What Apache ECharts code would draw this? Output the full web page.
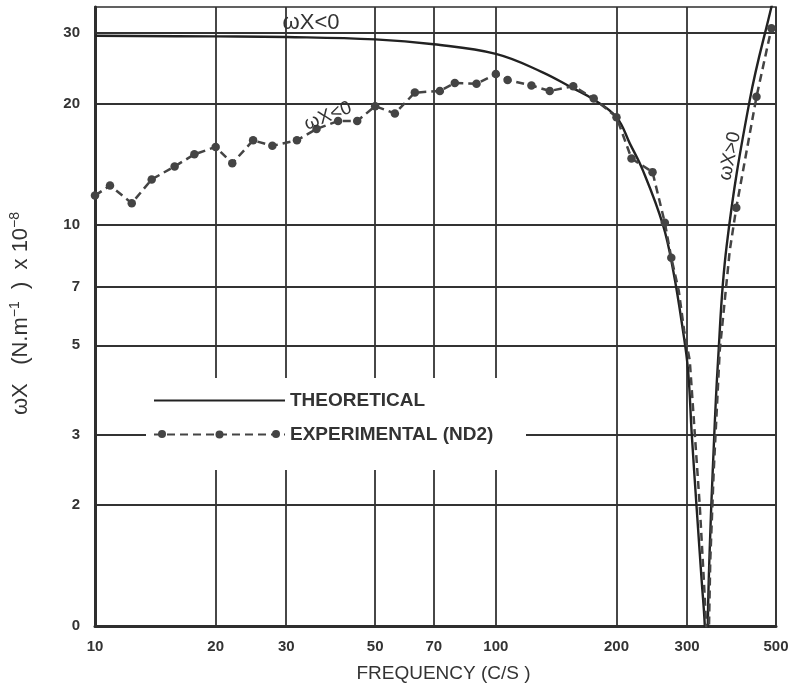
<!DOCTYPE html>
<html>
<head>
<meta charset="utf-8">
<title>ωX vs frequency</title>
<script src="https://cdn.jsdelivr.net/npm/echarts@6.0.0/dist/echarts.min.js"></script>
<style>
	html, body { margin: 0; padding: 0; background: #fff; }
	#main { width: 797px; height: 691px; }
</style>
</head>
<body>
<div id="main"></div>
<script>
	var xTicks = [10, 20, 30, 50, 70, 100, 200, 300, 500];
	var yTicks = [1, 2, 3, 5, 7, 10, 20, 30];

	// theoretical curve [freq, ωX], goes through zero near 336 c/s
	var theoryLeft = [
		[10, 29.5], [20, 29.4], [30, 29.3], [50, 28.9], [70, 28.1], [100, 26.6],
		[130, 24.0], [155, 21.9], [175, 20.5], [200, 18.5], [216, 15.9], [233, 13.6],
		[261, 10.0], [277, 7.68], [293, 5.44], [301.7, 4.33], [308.2, 3.0], [316.7, 1.99],
		[326, 1.31], [332, 1.01], [336, 0.7]
	];
	var theoryRight = [
		[338.8, 1.16], [341.8, 1.57], [347.6, 2.43], [358.4, 4.58], [376.7, 8.87],
		[430, 20.4], [487, 34.8], [500, 38.5]
	];

	// experimental (ND2), measured points
	var expPoints = [
		[10, 11.8], [10.9, 12.5], [12.35, 11.3], [13.85, 12.95], [15.8, 13.95], [17.7, 14.95],
		[20, 15.6], [22, 14.2], [24.8, 16.2], [27.7, 15.7], [31.9, 16.2], [35.7, 17.3],
		[40.4, 18.1], [45.1, 18.1], [50, 19.7], [56, 18.9], [62.8, 21.3], [72.5, 21.5],
		[79, 22.5], [89.5, 22.4], [100, 23.7], [107, 22.9], [122.7, 22.2], [136.3, 21.5],
		[156, 22.1], [175.5, 20.6], [200, 18.5], [218, 14.6], [246, 13.5], [264, 10.1],
		[274, 8.26]
	];
	// dashed line through the dip, no markers
	var expDip = [
		[286, 6.84], [295, 5.44], [304.7, 4.58], [313.6, 3.01], [322.7, 1.99], [330.2, 1.31],
		[334.7, 1.01], [337, 0.6], [342.7, 1.45], [349.6, 2.43], [361.9, 4.85], [383.3, 8.6]
	];
	var expRightPoints = [[398, 11.0], [447, 20.8], [487, 30.8]];

	var font = 'Liberation Sans, Arial, sans-serif';
	var ink = '#2e2e2e';
	var grid = '#333';

	var expData = expPoints.slice();
	for (var i = 0; i < expDip.length; i++) {
		expData.push({ value: expDip[i], symbol: 'none' });
	}
	expData = expData.concat(expRightPoints);

	function note(text, x, y, size, rot) {
		return {
			type: 'text', z: 6, x: x, y: y, rotation: rot || 0,
			style: {
				text: text, font: size + 'px ' + font, fill: '#333',
				align: 'center', verticalAlign: 'middle',
				textAlign: 'center', textVerticalAlign: 'middle'
			}
		};
	}

	var myChart = echarts.init(document.getElementById('main'));
	var option = {
		animation: false,
		backgroundColor: '#fff',
		grid: {
			left: 95, right: 21, top: 7, bottom: 65,
			show: true, borderColor: ink, borderWidth: 1.6
		},
		legend: {
			orient: 'vertical',
			left: 153,
			top: 391,
			padding: 0,
			itemWidth: 131,
			itemHeight: 10,
			itemGap: 15,
			textStyle: { fontFamily: font, fontWeight: 'bold', fontSize: 19, color: '#333' },
			data: [
				{ name: 'THEORETICAL', itemStyle: { opacity: 0 } },
				{ name: 'EXPERIMENTAL (ND2)' }
			]
		},
		xAxis: {
			type: 'log',
			logBase: 10,
			min: 10,
			max: 500,
			name: 'FREQUENCY (C/S )',
			nameLocation: 'middle',
			nameGap: 38,
			nameTextStyle: { fontFamily: font, fontSize: 19, color: '#333', padding: [0, 0, 0, 16] },
			axisLine: { lineStyle: { color: ink, width: 3 } },
			axisTick: { show: false, customValues: xTicks },
			axisLabel: {
				customValues: xTicks,
				margin: 13,
				fontFamily: font, fontWeight: 'bold', fontSize: 15, color: '#333'
			},
			splitLine: { show: true, lineStyle: { color: grid, width: 1.8 } }
		},
		yAxis: {
			type: 'log',
			logBase: 10,
			min: 1,
			max: 34.8,
			name: '{a|ωX   (N.m}{s|−1}{a|  )  x 10}{s|−8}',
			nameLocation: 'middle',
			nameRotate: 90,
			nameGap: 61,
			nameTextStyle: {
				padding: [0, 0, 0, 6],
				rich: {
					a: { fontFamily: font, fontSize: 22, color: '#333', lineHeight: 26 },
					s: { fontFamily: font, fontSize: 14, color: '#333', verticalAlign: 'top' }
				}
			},
			axisLine: { show: true, lineStyle: { color: ink, width: 3 } },
			axisTick: { show: false, customValues: yTicks },
			axisLabel: {
				customValues: yTicks,
				margin: 15,
				fontFamily: font, fontWeight: 'bold', fontSize: 15, color: '#333',
				formatter: function (v) { return v === 1 ? '0' : String(v); }
			},
			splitLine: { show: true, lineStyle: { color: grid, width: 1.8 } }
		},
		graphic: [
			// gap in the grid behind the key
			{ type: 'rect', z: 1, shape: { x: 146, y: 378, width: 380, height: 92 }, style: { fill: '#fff' } },
			{ type: 'circle', z: 6, shape: { cx: 162, cy: 434, r: 4 }, style: { fill: '#444' } },
			{ type: 'circle', z: 6, shape: { cx: 276, cy: 434, r: 4 }, style: { fill: '#444' } },
			note('ωX<0', 311, 23, 22, 0),
			note('ωX<0', 328, 116, 19, 0.38),
			note('ωX>0', 730, 156, 19, 1.36)
		],
		series: [
			{
				name: 'THEORETICAL',
				type: 'line',
				symbol: 'none',
				smooth: 0.4,
				z: 3,
				lineStyle: { color: '#222', width: 2.4 },
				itemStyle: { color: '#222' },
				data: theoryLeft.concat(theoryRight)
			},
			{
				name: 'EXPERIMENTAL (ND2)',
				type: 'line',
				symbol: 'circle',
				symbolSize: 8.5,
				z: 4,
				lineStyle: { color: '#444', width: 2.5, type: [8, 5] },
				itemStyle: { color: '#444' },
				data: expData
			}
		]
	};
	myChart.setOption(option);
</script>
</body>
</html>
